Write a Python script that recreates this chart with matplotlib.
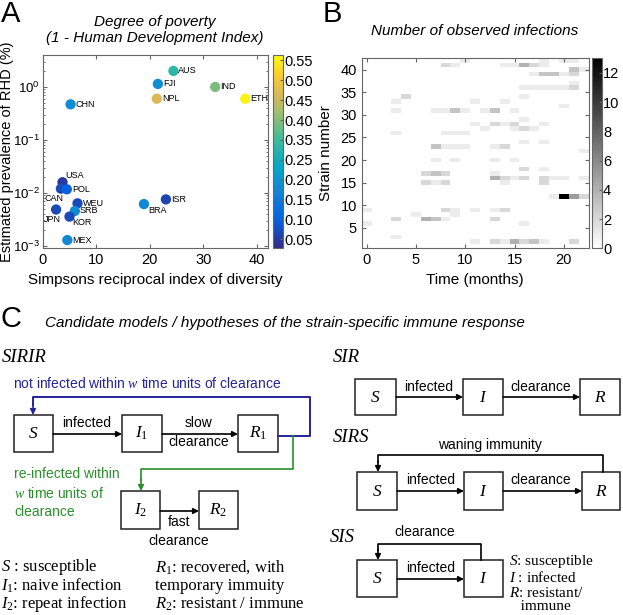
import numpy as np
import matplotlib
matplotlib.use('Agg')
import matplotlib.pyplot as plt
from matplotlib.colors import LinearSegmentedColormap, Normalize
from matplotlib.patches import Rectangle

plt.rcParams['font.family'] = ['Liberation Sans', 'DejaVu Sans']
plt.rcParams['mathtext.fontset'] = 'custom'
plt.rcParams['mathtext.rm'] = 'Liberation Serif'
plt.rcParams['mathtext.it'] = 'Liberation Serif:italic'
plt.rcParams['mathtext.sf'] = 'Liberation Sans'

# Panel A data
countries = ['AUS', 'FJI', 'IND', 'NPL', 'ETH', 'CHN', 'USA', 'CAN', 'POL',
             'WEU', 'JPN', 'SRB', 'KOR', 'MEX', 'BRA', 'ISR']
simpson = [24.4, 21.5, 32.2, 21.3, 37.8, 5.2, 3.7, 3.4, 4.5,
           6.5, 2.5, 6.0, 5.0, 4.6, 18.9, 23.0]
prevalence = [2.0, 1.14, 1.0, 0.6, 0.6, 0.47, 0.016, 0.0121, 0.0118,
              0.0064, 0.0049, 0.0046, 0.0036, 0.0013, 0.0062, 0.0076]
poverty = [0.31, 0.20, 0.375, 0.457, 0.555, 0.20, 0.05, 0.07, 0.105,
           0.07, 0.07, 0.20, 0.07, 0.19, 0.19, 0.065]
# label offsets in pixels (dx, dy down) and alignment
lab_off = {'USA': (3, -7, 'left'), 'CAN': (-7, 10, 'center'), 'JPN': (-4, 10, 'center'),
           'KOR': (3, 6, 'left'), 'BRA': (4, 6, 'left')}
ytick_a = [1e-3, 1e-2, 1e-1, 1e0]
ytick_a_labels = [r'$\mathsf{10^{-3}}$', r'$\mathsf{10^{-2}}$', r'$\mathsf{10^{-1}}$', r'$\mathsf{10^{0}}$']
cbar_a_labels = ['0.05', '0.10', '0.15', '0.20', '0.25', '0.35', '0.40', '0.45', '0.50', '0.55']

# Panel B data: (month, strain, count)
months = [10, 18, 20, 21, 8, 9, 14, 15, 16, 17, 18, 21, 22, 17, 18, 19, 20, 21,
          21, 16, 17, 18, 19, 20, 21, 4, 16, 3, 11, 14, 20,
          3, 7, 8, 9, 10, 12, 13, 15, 16, 11, 13, 14, 15, 18, 12, 15, 16, 17,
          3, 8, 9, 10, 16, 18, 7, 8, 9, 10, 13, 14, 22, 7, 9, 13, 15, 16, 18,
          6, 7, 8, 13, 13, 14, 15, 16, 18, 19, 20, 22, 6, 7, 8, 14, 18,
          19, 20, 21, 22, 0, 8, 9, 11, 13, 14, 5, 9, 3, 6, 7, 8, 13, 0, 16, 3,
          11, 13, 14, 15, 16, 17, 18, 21]
strains = [42, 42, 42, 42, 41, 41, 41, 41, 41, 41, 41, 40, 40, 39, 39, 39, 39, 39,
           37, 36, 36, 36, 36, 36, 36, 34, 34, 33, 33, 33, 32,
           31, 31, 31, 31, 31, 31, 31, 31, 29, 28, 28, 28, 28, 28, 27, 27, 27, 27,
           26, 26, 26, 26, 24, 24, 23, 23, 23, 23, 23, 23, 22, 20, 20, 20, 20, 18, 18,
           17, 17, 17, 17, 16, 16, 16, 16, 16, 16, 16, 16, 15, 15, 15, 15, 15,
           12, 12, 12, 12, 9, 9, 9, 9, 9, 9, 8, 8, 7, 7, 7, 7, 7, 6, 6, 3,
           2, 2, 2, 2, 2, 2, 2, 2]
counts = [1, 1, 1, 1, 2, 1, 1, 1, 4, 2, 1, 3, 1, 1, 3, 3, 1, 2,
          1, 1, 1, 1, 1, 1, 2, 2, 1, 1, 1, 1, 1,
          1, 1, 1, 3, 1, 1, 3, 1, 1, 1, 2, 1, 2, 1, 1, 1, 2, 1,
          1, 1, 1, 1, 1, 1, 3, 1, 1, 1, 1, 2, 1, 1, 1, 1, 1, 2, 1,
          2, 3, 2, 1, 4, 2, 1, 2, 2, 1, 1, 1, 2, 1, 2, 1, 2,
          1, 13, 5, 2, 1, 2, 1, 1, 1, 2, 1, 1, 2, 4, 3, 1, 2, 1, 1, 1,
          1, 2, 1, 4, 2, 3, 1, 2]
n_months, n_strains = 23, 42

# parula-like colormap
parula = LinearSegmentedColormap.from_list('parula', [
    (0.0, '#352a87'), (0.15, '#0363e1'), (0.3, '#1485d4'), (0.42, '#06a7c6'),
    (0.55, '#38b99e'), (0.68, '#92bf73'), (0.8, '#d9ba56'), (0.9, '#fcce2e'),
    (1.0, '#f9fb0e')])

W, H = 623, 615
fig = plt.figure(figsize=(W / 100, H / 100), dpi=100)

def frac(l, t, w, h):
    return [l / W, 1 - (t + h) / H, w / W, h / H]

def style(ax):
    for s in ax.spines.values():
        s.set_color('#666666')
        s.set_linewidth(0.8)
    ax.tick_params(direction='in', top=True, right=True, which='both',
                   color='#666666', labelsize=10.5, length=3)

# ---- Panel A
axA = fig.add_axes(frac(42.7, 55, 225, 193.3))
norm = Normalize(0.025, 0.565)
sc = axA.scatter(simpson, prevalence, c=poverty, cmap=parula, norm=norm, s=55,
                 edgecolors='none', zorder=3)
axA.set_yscale('log')
axA.set_xlim(0, 42)
axA.set_ylim(0.00091, 4.0)
axA.set_xticks([0, 10, 20, 30, 40])
axA.set_yticks(ytick_a)
axA.set_yticklabels(ytick_a_labels)
style(axA)
axA.tick_params(axis='y', which='minor', length=1.5)
axA.tick_params(axis='y', which='major', labelsize=9.5, pad=2)
for name, xv, yv in zip(countries, simpson, prevalence):
    dx, dy, ha = lab_off.get(name, (5, 0, 'left'))
    axA.annotate(name, (xv, yv), xytext=(dx * 0.72, -dy * 0.72), textcoords='offset points',
                 ha=ha, va='center', fontsize=6.5)
axA.set_xlabel('Simpsons reciprocal index of diversity', fontsize=11, labelpad=4)
axA.set_ylabel('Estimated prevalence of RHD (%)', fontsize=10.5)
axA.yaxis.set_label_coords(-0.128, 0.5)

caxA = fig.add_axes(frac(273, 55, 10, 193.3))
cbA = fig.colorbar(sc, cax=caxA)
cbA.set_ticks(np.linspace(0.05, 0.55, len(cbar_a_labels)))
cbA.set_ticklabels(cbar_a_labels)
cbA.outline.set_edgecolor('#666666')
caxA.tick_params(direction='in', labelsize=10.5, length=2, color='#666666', pad=1)

# ---- Panel B
grid = np.zeros((n_strains, n_months))
for m, st, c in zip(months, strains, counts):
    grid[st - 1, m] = c
axB = fig.add_axes(frac(361.7, 58.3, 226.8, 190))
mesh = axB.pcolormesh(np.arange(n_months + 1) - 0.5, np.arange(n_strains + 1) + 0.5, grid,
                      cmap='gray_r', vmin=0, vmax=13)
axB.set_xticks([0, 5, 10, 15, 20])
axB.set_yticks([5, 10, 15, 20, 25, 30, 35, 40])
style(axB)
axB.set_xlabel('Time (months)', fontsize=11, labelpad=4)
axB.set_ylabel('Strain number', fontsize=11)
axB.yaxis.set_label_coords(-0.127, 0.5)

caxB = fig.add_axes(frac(591.7, 58.3, 10, 190))
cbB = fig.colorbar(mesh, cax=caxB)
cbB.set_ticks([0, 2, 4, 6, 8, 10, 12])
cbB.outline.set_edgecolor('#666666')
caxB.tick_params(direction='in', labelsize=10.5, length=2, color='#666666', pad=1)

# ---- overlay for titles and diagram (pixel coordinates)
dg = fig.add_axes([0, 0, 1, 1], zorder=5)
dg.set_xlim(0, W)
dg.set_ylim(H, 0)
dg.axis('off')
dg.patch.set_alpha(0)

dg.text(1, 22, 'A', fontsize=21, va='baseline', ha='left')
dg.text(323, 22, 'B', fontsize=21, va='baseline', ha='left')
dg.text(1, 327, 'C', fontsize=21, va='baseline', ha='left')
dg.text(155, 30, 'Degree of poverty\n(1 - Human Development Index)', fontsize=11,
        style='italic', ha='center', va='center', linespacing=1.1)
dg.text(475, 31, 'Number of observed infections', fontsize=11, style='italic',
        ha='center', va='center')
dg.text(45, 323, 'Candidate models / hypotheses of the strain-specific immune response',
        fontsize=11, style='italic', ha='left', va='center')

blue, green = '#24249a', '#2a8f2a'

def box(x, y, w, h, lab):
    dg.add_patch(Rectangle((x, y), w, h, fill=False, lw=1.1, ec='#222222'))
    dg.text(x + w / 2, y + h / 2, lab, fontsize=12.5, ha='center', va='center')

def arrow(x1, y1, x2, y2, col='black'):
    dg.annotate('', xy=(x2, y2), xytext=(x1, y1),
                arrowprops=dict(arrowstyle='-|>', color=col, lw=1.2, mutation_scale=8,
                                shrinkA=0, shrinkB=0))

def label(x, y, s, col='black', ha='center', size=10):
    dg.text(x, y, s, fontsize=size, color=col, ha=ha, va='center')

serif = ['Liberation Serif', 'DejaVu Serif']

# SIRIR
dg.text(2, 357, 'SIRIR', fontsize=13.5, family=serif, style='italic', va='center')
label(13, 383, r'not infected within $w$ time units of clearance', col=blue, ha='left')
box(14, 415, 39, 37, r'$S$')
box(122, 415, 40, 37, r'$I_1$')
box(238, 415, 40, 37, r'$R_1$')
arrow(53, 434, 122, 434)
arrow(162, 434, 238, 434)
label(87, 423, 'infected')
label(199, 423, 'slow')
label(199, 442, 'clearance')
dg.plot([278, 310, 310, 33, 33], [436, 436, 397, 397, 405], color=blue, lw=1.4)
arrow(33, 404, 33, 415, col=blue)
dg.plot([293, 293, 141, 141], [436, 469, 469, 480], color=green, lw=1.2)
arrow(141, 479, 141, 491, col=green)
label(14, 474, 're-infected within', col=green, ha='left')
label(14, 493, r'$w$ time units of', col=green, ha='left')
label(14, 512, 'clearance', col=green, ha='left')
box(121, 491, 39, 38, r'$I_2$')
box(199, 491, 39, 38, r'$R_2$')
arrow(160, 511, 199, 511)
label(179, 522, 'fast')
label(179, 541, 'clearance')

leg_left = [r'$S$ : susceptible', r'$I_1$: naive infection', r'$I_2$: repeat infection']
leg_right = [r'$R_1$: recovered, with', 'temporary immuity', r'$R_2$: resistant / immune']
for i, (a, b) in enumerate(zip(leg_left, leg_right)):
    dg.text(1, 567 + 18.5 * i, a, fontsize=12, family=serif, va='center')
    dg.text(155, 567 + 18.5 * i, b, fontsize=12, family=serif, va='center')

# SIR
dg.text(333, 358, 'SIR', fontsize=13.5, family=serif, style='italic', va='center')
box(355, 379, 41, 36, r'$S$')
box(463, 379, 40, 36, r'$I$')
box(580, 379, 40, 36, r'$R$')
arrow(396, 397, 463, 397)
arrow(503, 397, 580, 397)
label(429, 387, 'infected')
label(541, 387, 'clearance')

# SIRS
dg.text(333, 438, 'SIRS', fontsize=13.5, family=serif, style='italic', va='center')
label(490, 445, 'waning immunity')
box(357, 472, 40, 38, r'$S$')
box(464, 472, 39, 38, r'$I$')
box(582, 472, 38, 38, r'$R$')
dg.plot([603, 603, 378, 378], [472, 455, 455, 462], color='black', lw=1.2)
arrow(378, 461, 378, 472)
arrow(397, 491, 464, 491)
arrow(503, 491, 582, 491)
label(431, 480, 'infected')
label(541, 480, 'clearance')

# SIS
dg.text(330, 537, 'SIS', fontsize=13.5, family=serif, style='italic', va='center')
label(425, 532, 'clearance')
box(357, 560, 40, 37, r'$S$')
box(464, 560, 39, 37, r'$I$')
dg.plot([481, 481, 378, 378], [560, 544, 544, 550], color='black', lw=1.2)
arrow(378, 549, 378, 560)
arrow(397, 579, 464, 579)
label(431, 568, 'infected')
sis_leg = [r'$S$: susceptible', r'$I$ : infected', r'$R$: resistant/', '   immune']
sis_y = [561, 577, 593, 607]
for s, yy in zip(sis_leg, sis_y):
    dg.text(509, yy, s, fontsize=11, family=serif, va='center')

fig.savefig('out.png', dpi=100)
